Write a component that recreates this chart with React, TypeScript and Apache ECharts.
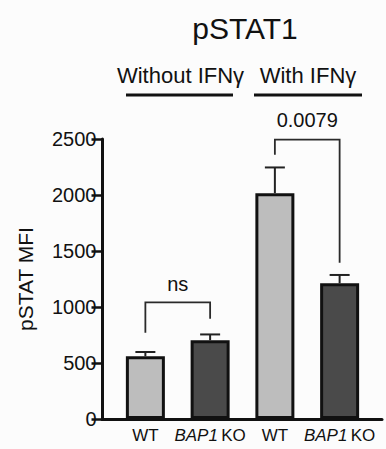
import { useEffect, useRef } from "react";
import * as echarts from "echarts";

const categories = ["WT", "BAP1 KO", "WT", "BAP1 KO"];
const means = [560, 703, 2016, 1212];
const errTops = [598, 755, 2246, 1286];
const barColors = ["#bdbdbd", "#4a4a4a", "#bdbdbd", "#4a4a4a"];
const yMin = 0;
const yMax = 2500;
const yInterval = 500;
const titleText = "pSTAT1";
const yName = "pSTAT MFI";
const groupLabels = ["Without IFNγ", "With IFNγ"];
// significance brackets
const bracketLeft = [0, 2];
const bracketRight = [1, 3];
const bracketTop = [1042, 2494];
const bracketLeftEnd = [770, 2360];
const bracketRightEnd = [896, 1396];
const bracketLabels = ["ns", "0.0079"];
const bracketLabelValues = [1208, 2672];

const FONT = "'Liberation Sans', Arial, Helvetica, sans-serif";
const INK = "#111";

export default function App() {
  const ref = useRef<HTMLDivElement>(null);
  useEffect(() => {
    if (!ref.current) return;
    const chart = echarts.init(ref.current, undefined, { renderer: "svg" });
    const errData = means.map((m, i) => [i, m, errTops[i]]);
    const bracketData = bracketLeft.map((l, i) => [
      l,
      bracketRight[i],
      bracketTop[i],
      bracketLeftEnd[i],
      bracketRightEnd[i],
      bracketLabelValues[i],
      i,
    ]);
    const option: any = {
      animation: false,
      backgroundColor: "#fcfcfc",
      textStyle: { fontFamily: FONT },
      grid: [
        { left: 113, right: 14, top: 139, bottom: 30 },
        { left: 102, right: 4, top: 139, bottom: 30 },
      ],
      xAxis: [
        {
          type: "category",
          gridIndex: 0,
          data: categories,
          axisLine: { show: false },
          axisTick: { show: false },
          axisLabel: {
            interval: 0,
            margin: 8,
            hideOverlap: false,
            formatter: (v: string) => {
              const parts = v.split(" ");
              if (parts.length > 1) return `{i|${parts[0]}} {n|${parts.slice(1).join(" ")}}`;
              return `{n|${v}}`;
            },
            rich: {
              i: { fontSize: 17, fontStyle: "italic", color: INK, fontFamily: FONT },
              n: { fontSize: 17, color: INK, fontFamily: FONT },
            },
          },
        },
        {
          type: "value",
          gridIndex: 1,
          min: 0,
          max: 1,
          axisLine: { show: true, onZero: false, lineStyle: { color: INK, width: 3 } },
          axisTick: { show: false },
          axisLabel: { show: false },
          splitLine: { show: false },
        },
      ],
      yAxis: [
        {
          type: "value",
          gridIndex: 0,
          min: yMin,
          max: yMax,
          interval: yInterval,
          offset: 10.5,
          name: yName,
          nameLocation: "middle",
          nameGap: 67,
          nameTextStyle: { fontSize: 21, color: INK, fontFamily: FONT },
          axisLine: { show: true, lineStyle: { color: INK, width: 3 } },
          axisTick: { show: true, length: 11, lineStyle: { color: INK, width: 2.5 } },
          axisLabel: {
            fontSize: 20,
            color: INK,
            margin: 6,
            fontFamily: FONT,
            formatter: (v: number) => String(v),
          },
          splitLine: { show: false },
        },
        {
          type: "value",
          gridIndex: 1,
          min: 0,
          max: 1,
          show: false,
        },
      ],
      series: [
        {
          type: "bar",
          xAxisIndex: 0,
          yAxisIndex: 0,
          barWidth: 39,
          data: means.map((v, i) => ({ value: v, itemStyle: { color: barColors[i] } })),
          itemStyle: { borderColor: INK, borderWidth: 3 },
          z: 2,
        },
        {
          type: "custom",
          xAxisIndex: 0,
          yAxisIndex: 0,
          encode: { x: 0, y: [1, 2] },
          data: errData,
          z: 3,
          renderItem: (params: any, api: any) => {
            const x = api.value(0);
            const p0 = api.coord([x, api.value(1)]);
            const p1 = api.coord([x, api.value(2)]);
            const st = { stroke: "#222", lineWidth: 2 };
            return {
              type: "group",
              children: [
                { type: "line", shape: { x1: p0[0], y1: p0[1], x2: p1[0], y2: p1[1] }, style: st },
                { type: "line", shape: { x1: p1[0] - 10, y1: p1[1], x2: p1[0] + 10, y2: p1[1] }, style: st },
              ],
            };
          },
        },
        {
          type: "custom",
          xAxisIndex: 0,
          yAxisIndex: 0,
          encode: { x: [0, 1], y: [2, 3, 4, 5] },
          data: bracketData,
          z: 4,
          clip: false,
          renderItem: (params: any, api: any) => {
            const l = api.value(0);
            const r = api.value(1);
            const pl = api.coord([l, api.value(2)]);
            const pr = api.coord([r, api.value(2)]);
            const ple = api.coord([l, api.value(3)]);
            const pre = api.coord([r, api.value(4)]);
            const pt = api.coord([l, api.value(5)]);
            const idx = api.value(6);
            const st = { stroke: "#2a2a2a", lineWidth: 1.8, fill: "none" };
            return {
              type: "group",
              children: [
                {
                  type: "polyline",
                  shape: { points: [ple, pl, pr, pre] },
                  style: st,
                },
                {
                  type: "text",
                  x: (pl[0] + pr[0]) / 2,
                  y: pt[1],
                  style: {
                    text: bracketLabels[idx],
                    fontSize: 20,
                    fontFamily: FONT,
                    fill: INK,
                    align: "center",
                    verticalAlign: "middle",
                  },
                },
              ],
            };
          },
        },
      ],
      graphic: [
        {
          type: "text",
          x: 245,
          y: 28,
          style: {
            text: titleText,
            fontSize: 30,
            fontFamily: FONT,
            fill: INK,
            align: "center",
            verticalAlign: "middle",
          },
        },
        {
          type: "text",
          x: 180.5,
          y: 75,
          style: {
            text: groupLabels[0],
            fontSize: 22,
            fontFamily: FONT,
            fill: INK,
            align: "center",
            verticalAlign: "middle",
          },
        },
        {
          type: "text",
          x: 308,
          y: 75,
          style: {
            text: groupLabels[1],
            fontSize: 22,
            fontFamily: FONT,
            fill: INK,
            align: "center",
            verticalAlign: "middle",
          },
        },
        {
          type: "line",
          shape: { x1: 126, y1: 95, x2: 233, y2: 95 },
          style: { stroke: INK, lineWidth: 3 },
        },
        {
          type: "line",
          shape: { x1: 254, y1: 95, x2: 362, y2: 95 },
          style: { stroke: INK, lineWidth: 3 },
        },
      ],
    };
    chart.setOption(option);
    return () => chart.dispose();
  }, []);
  return (
    <div
      ref={ref}
      style={{ position: "fixed", left: 0, top: 0, width: 386, height: 449 }}
    />
  );
}
